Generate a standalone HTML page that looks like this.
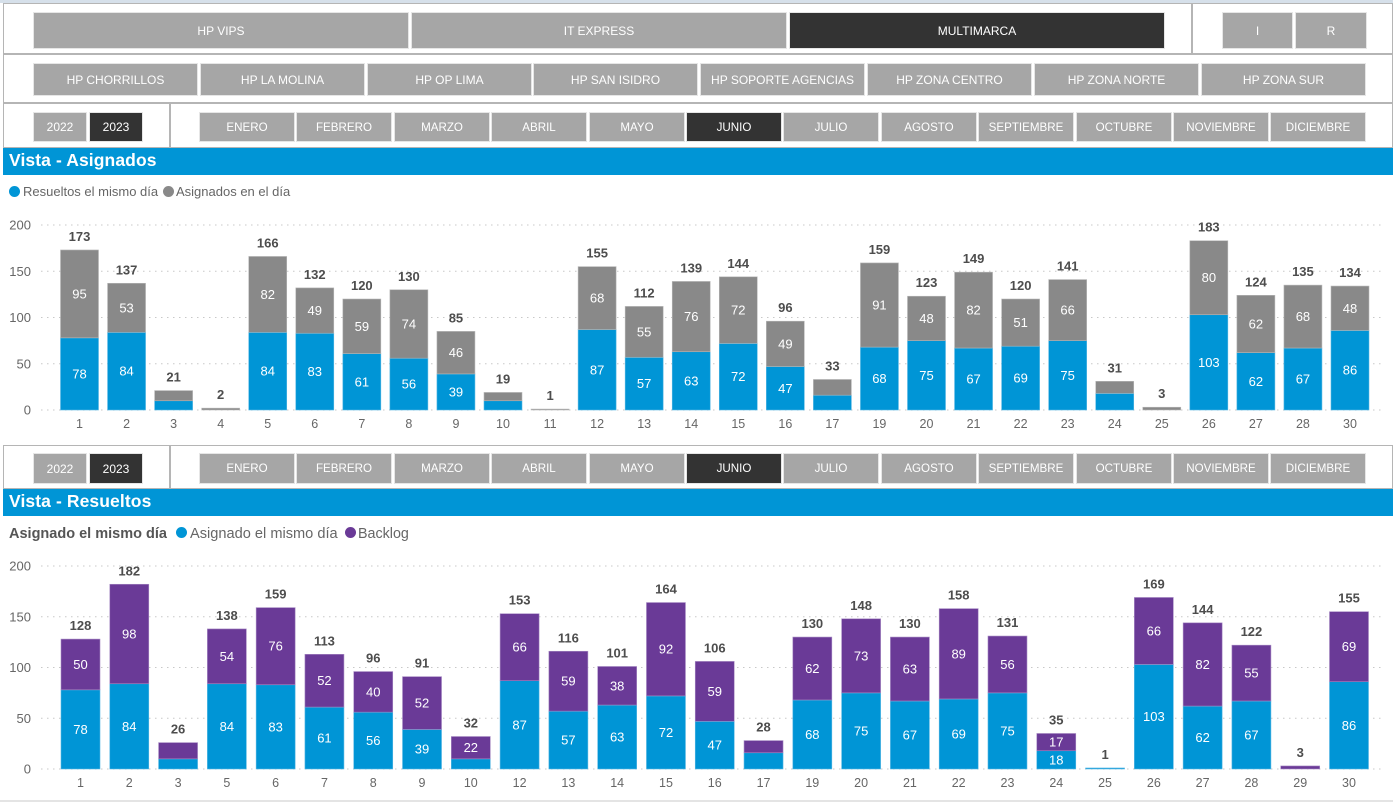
<!DOCTYPE html>
<html lang="es">
<head>
<meta charset="utf-8">
<title>Vista - Asignados y Resueltos</title>
<style>
html,body{margin:0;padding:0;background:#fff;}
body{width:1393px;height:802px;position:relative;overflow:hidden;font-family:"Liberation Sans",Arial,sans-serif;}
.abs{position:absolute;box-sizing:border-box;}
.panel{position:absolute;box-sizing:border-box;border:1px solid #b5b5b5;background:#fff;}
.btn{position:absolute;box-sizing:border-box;background:#a6a6a6;color:#fff;font-size:12px;display:flex;align-items:center;justify-content:center;border:1px solid #e6e6e6;white-space:nowrap;}
.btn.on{background:#333333;}
.btn.m{font-size:11.6px;}
.divider{position:absolute;width:1.5px;background:#b5b5b5;}
.band{position:absolute;left:3px;width:1390px;height:27px;background:#0095d6;color:#fff;font-weight:bold;font-size:17.5px;line-height:25px;padding-left:6px;box-sizing:border-box;letter-spacing:.1px;}
.legend{position:absolute;font-size:13px;color:#666;white-space:nowrap;line-height:16px;}
.dot{position:absolute;width:11px;height:11px;border-radius:50%;}
svg{position:absolute;left:0;top:0;}
</style>
</head>
<body>
<div class="abs" style="left:0;top:0;width:1393px;height:3px;background:#d6e0ea"></div>

<div class="panel" style="left:3px;top:3px;width:1390px;height:51px"></div>
<div class="divider" style="left:1191px;top:3px;height:51px"></div>
<div class="btn" style="left:33px;top:12px;width:376px;height:37px">HP VIPS</div>
<div class="btn" style="left:411px;top:12px;width:376px;height:37px">IT EXPRESS</div>
<div class="btn on" style="left:789px;top:12px;width:376px;height:37px">MULTIMARCA</div>
<div class="btn" style="left:1222px;top:12px;width:71px;height:37px">I</div>
<div class="btn" style="left:1295px;top:12px;width:72px;height:37px">R</div>

<div class="panel" style="left:3px;top:54px;width:1390px;height:49px"></div>
<div class="btn" style="left:33px;top:63px;width:165px;height:33px">HP CHORRILLOS</div>
<div class="btn" style="left:200px;top:63px;width:165px;height:33px">HP LA MOLINA</div>
<div class="btn" style="left:367px;top:63px;width:165px;height:33px">HP OP LIMA</div>
<div class="btn" style="left:533px;top:63px;width:165px;height:33px">HP SAN ISIDRO</div>
<div class="btn" style="left:700px;top:63px;width:165px;height:33px">HP SOPORTE AGENCIAS</div>
<div class="btn" style="left:867px;top:63px;width:165px;height:33px">HP ZONA CENTRO</div>
<div class="btn" style="left:1034px;top:63px;width:165px;height:33px">HP ZONA NORTE</div>
<div class="btn" style="left:1201px;top:63px;width:165px;height:33px">HP ZONA SUR</div>

<div class="panel" style="left:3px;top:103px;width:1390px;height:45px"></div>
<div class="divider" style="left:169px;top:103px;height:45px"></div>
<div id="dateTop"></div>
<div class="band" style="top:148px">Vista - Asignados</div>

<div class="dot" style="left:9px;top:186px;background:#0095d6"></div>
<div class="legend" style="left:23px;top:184px">Resueltos el mismo día</div>
<div class="dot" style="left:163px;top:186px;background:#898989"></div>
<div class="legend" style="left:176px;top:184px">Asignados en el día</div>

<div class="panel" style="left:3px;top:445px;width:1390px;height:44px"></div>
<div class="divider" style="left:169px;top:445px;height:44px"></div>
<div id="dateBottom"></div>
<div class="band" style="top:489px">Vista - Resueltos</div>

<div class="legend" style="left:9px;top:526px;font-size:14.5px;font-weight:bold;color:#555">Asignado el mismo día</div>
<div class="dot" style="left:176px;top:527px;background:#0095d6"></div>
<div class="legend" style="left:190px;top:526px;font-size:14.6px">Asignado el mismo día</div>
<div class="dot" style="left:345px;top:527px;background:#6a3a97"></div>
<div class="legend" style="left:358px;top:526px;font-size:14.3px">Backlog</div>

<svg id="chart" width="1393" height="802" viewBox="0 0 1393 802"></svg>
<div class="abs" style="left:0;top:800px;width:1393px;height:2px;background:#e4e4e4"></div>

<script>
const yearLabels = ['2022', '2023'];
const monthLabels = ['ENERO','FEBRERO','MARZO','ABRIL','MAYO','JUNIO','JULIO','AGOSTO','SEPTIEMBRE','OCTUBRE','NOVIEMBRE','DICIEMBRE'];
const yTickLabels = [0, 50, 100, 150, 200];

const assignedDays = [1,2,3,4,5,6,7,8,9,10,11,12,13,14,15,16,17,19,20,21,22,23,24,25,26,27,28,30];
const assignedResolved = [78,84,10,0,84,83,61,56,39,10,0,87,57,63,72,47,16,68,75,67,69,75,18,0,103,62,67,86];
const assignedGray = [95,53,11,2,82,49,59,74,46,9,1,68,55,76,72,49,17,91,48,82,51,66,13,3,80,62,68,48];

const resolvedDays = [1,2,3,5,6,7,8,9,10,12,13,14,15,16,17,19,20,21,22,23,24,25,26,27,28,29,30];
const resolvedSameDay = [78,84,10,84,83,61,56,39,10,87,57,63,72,47,16,68,75,67,69,75,18,1,103,62,67,0,86];
const resolvedBacklog = [50,98,16,54,76,52,40,52,22,66,59,38,92,59,12,62,73,63,89,56,17,0,66,82,55,3,69];

const SVGNS = 'http://www.w3.org/2000/svg';
const svg = document.getElementById('chart');

function buildDateRow(hostId, top, height, prefix) {
  const host = document.getElementById(hostId);
  yearLabels.forEach(function (label, i) {
    const el = document.createElement('div');
    el.className = 'btn' + (label === '2023' ? ' on' : '');
    el.style.cssText = 'left:' + (33 + i * 56) + 'px;top:' + top + 'px;width:54px;height:' + height + 'px';
    el.textContent = label;
    
    
    host.appendChild(el);
  });
  monthLabels.forEach(function (label, i) {
    const el = document.createElement('div');
    el.className = 'btn m' + (label === 'JUNIO' ? ' on' : '');
    el.style.cssText = 'left:' + Math.round(199 + i * 97.4) + 'px;top:' + top + 'px;width:96px;height:' + height + 'px';
    el.textContent = label;
    
    
    host.appendChild(el);
  });
}
buildDateRow('dateTop', 112, 30, 'top');
buildDateRow('dateBottom', 453, 31, 'bottom');

function addText(x, y, str, size, fill, weight, anchor) {
  const t = document.createElementNS(SVGNS, 'text');
  t.setAttribute('x', x);
  t.setAttribute('y', y);
  t.setAttribute('font-size', size);
  t.setAttribute('fill', fill);
  t.setAttribute('font-weight', weight || 'normal');
  t.setAttribute('text-anchor', anchor || 'middle');
  t.setAttribute('font-family', '"Liberation Sans", Arial, sans-serif');
  t.textContent = str;
  svg.appendChild(t);
  return t;
}

function addRect(x, y, w, h, fill, stroke) {
  const r = document.createElementNS(SVGNS, 'rect');
  r.setAttribute('x', x);
  r.setAttribute('y', y);
  r.setAttribute('width', w);
  r.setAttribute('height', h);
  r.setAttribute('fill', fill);
  r.setAttribute('stroke', stroke);
  r.setAttribute('stroke-width', 0.6);
  svg.appendChild(r);
  return r;
}

function drawChart(cfg, days, lower, upper) {
  const xPos = function (i) { return cfg.firstX + i * (cfg.lastX - cfg.firstX) / (days.length - 1); };
  const yPos = function (v) { return cfg.zeroY - v * (cfg.zeroY - cfg.maxY) / 200; };

  yTickLabels.forEach(function (tick) {
    const line = document.createElementNS(SVGNS, 'line');
    line.setAttribute('x1', 41);
    line.setAttribute('x2', 1384);
    line.setAttribute('y1', yPos(tick));
    line.setAttribute('y2', yPos(tick));
    line.setAttribute('stroke', '#c8c8c8');
    line.setAttribute('stroke-width', 1);
    line.setAttribute('stroke-dasharray', '1.5 4.5');
    
    
    svg.appendChild(line);

    const label = addText(31, yPos(tick) + 4.5, tick, 13, '#666', 'normal', 'end');
    
    
  });

  days.forEach(function (day, i) {
    const cx = xPos(i);
    const left = cx - cfg.barWidth / 2;
    const a = lower[i];
    const b = upper[i];
    const yA = yPos(a);
    const yB = yPos(a + b);

    if (a > 0) {
      const rectA = addRect(left, yA, cfg.barWidth, cfg.zeroY - yA, '#0095d6', '#59b8e4');
      
      
    }
    if (b > 0) {
      const rectB = addRect(left, yB, cfg.barWidth, yA - yB, cfg.upperColor, cfg.upperStroke);
      
      
    }
    if (cfg.zeroY - yA >= 17) {
      const labelA = addText(cx, (yA + cfg.zeroY) / 2 + 4.5, a, 13, '#fff');
      
      
    }
    if (yA - yB >= 17) {
      const labelB = addText(cx, (yB + yA) / 2 + 4.5, b, 13, '#fff');
      
      
    }
    const total = addText(cx, yB - 9, a + b, 13, '#4d4d4d', 'bold');
    
    

    const tick = addText(cx, cfg.zeroY + 18, day, 12.5, '#666');
    
    
  });
}

drawChart({ name: 'asignados', firstX: 79.5, lastX: 1350, zeroY: 410, maxY: 225, barWidth: 38, upperColor: '#898989', upperStroke: '#b8b8b8' }, assignedDays, assignedResolved, assignedGray);
drawChart({ name: 'resueltos', firstX: 80.5, lastX: 1349, zeroY: 769, maxY: 566, barWidth: 39, upperColor: '#6a3a97', upperStroke: '#a88cc4' }, resolvedDays, resolvedSameDay, resolvedBacklog);
</script>
</body>
</html>
